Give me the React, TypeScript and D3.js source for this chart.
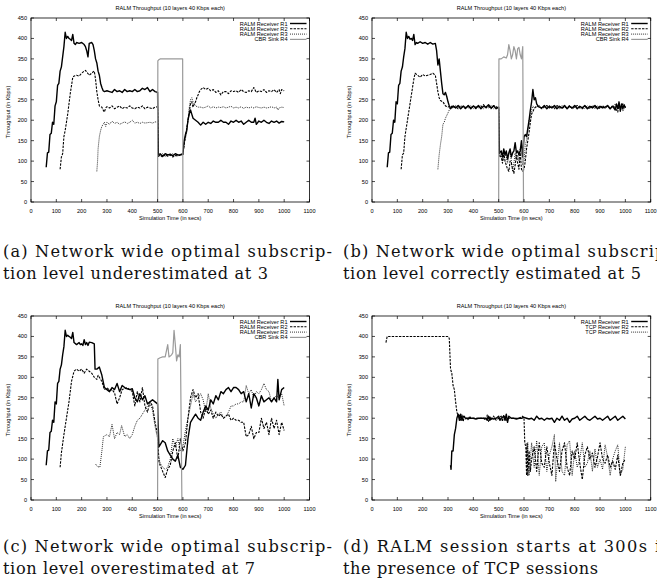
import React from 'react';
import * as d3 from 'd3';

type P = [number, number];

const xTicks = [0, 100, 200, 300, 400, 500, 600, 700, 800, 900, 1000, 1100];
const yTicks = [0, 50, 100, 150, 200, 250, 300, 350, 400, 450];
const chartTitle = 'RALM Throughput (10 layers 40 Kbps each)';
const xAxisLabel = 'Simulation Time (in secs)';
const yAxisLabel = 'Throughput (in Kbps)';
const legendRALM = ['RALM Receiver R1', 'RALM Receiver R2', 'RALM Receiver R3', 'CBR Sink R4'];
const legendTCP = ['RALM Receiver R1', 'TCP Receiver R2', 'TCP Receiver R3'];

const captionA = ['(a) Network wide optimal subscrip-', 'tion level underestimated at 3'];
const captionB = ['(b) Network wide optimal subscrip-', 'tion level correctly estimated at 5'];
const captionC = ['(c) Network wide optimal subscrip-', 'tion level overestimated at 7'];
const captionD = ['(d) RALM session starts at 300s in', 'the presence of TCP sessions'];

// ---------- Panel (a) ----------
const aR1: P[] = [[60,85],[65,120],[70,122],[75,165],[80,168],[85,195],[90,190],[95,235],[100,245],[105,285],[110,290],[115,320],[120,330],[125,355],[130,380],[135,415],[140,400],[145,405],[150,400],[155,398],[160,395],[165,410],[170,388],[175,385],[180,390],[190,388],[200,390],[210,385],[215,380],[220,370],[225,355],[230,388],[240,390],[245,385],[250,370],[255,350],[260,340],[265,320],[270,310],[275,290],[280,280],[285,272],[290,270],[300,272],[310,270],[320,268],[330,275],[340,270],[350,272],[360,268],[370,275],[380,270],[390,272],[400,270],[410,275],[420,270],[430,272],[440,278],[450,275],[460,280],[470,270],[480,275],[490,270],[500,268],[503,115],[510,118],[520,112],[530,118],[540,115],[550,117],[560,113],[570,118],[580,115],[590,116],[600,118],[605,150],[610,165],[615,175],[620,200],[625,215],[630,225],[635,215],[640,205],[650,200],[660,195],[670,188],[680,195],[690,190],[700,195],[710,192],[720,198],[730,195],[740,195],[750,200],[760,195],[770,195],[780,190],[790,198],[800,195],[810,200],[820,195],[830,198],[840,190],[850,195],[860,200],[870,195],[880,195],[885,205],[890,190],[900,198],[910,195],[920,200],[930,195],[940,192],[950,198],[960,195],[970,198],[980,193],[990,197],[1000,196]];
const aR2: P[] = [[115,80],[120,110],[125,118],[130,160],[135,175],[140,195],[145,215],[150,240],[155,265],[160,285],[165,305],[170,308],[180,310],[190,308],[200,315],[210,320],[215,322],[220,318],[230,310],[240,315],[245,318],[250,320],[255,300],[260,270],[265,250],[270,235],[280,232],[285,225],[290,220],[295,230],[300,233],[310,230],[320,235],[330,228],[340,232],[350,235],[360,228],[370,232],[380,230],[390,235],[400,230],[410,228],[420,232],[430,230],[440,235],[450,228],[460,232],[470,230],[480,228],[490,232],[500,233],[503,112],[510,115],[520,110],[530,116],[540,112],[550,115],[560,110],[570,114],[580,112],[590,115],[600,116],[605,140],[610,160],[615,180],[620,200],[625,220],[630,240],[635,245],[640,232],[645,240],[650,245],[655,255],[660,262],[665,270],[670,275],[680,280],[690,275],[700,278],[710,272],[720,275],[730,268],[740,272],[750,262],[760,270],[770,270],[780,265],[790,272],[800,270],[810,272],[820,268],[830,275],[840,270],[850,268],[860,272],[870,270],[880,280],[890,268],[900,272],[910,270],[920,275],[930,268],[940,272],[950,270],[960,275],[970,268],[980,275],[985,265],[990,275],[1000,272]];
const aR3: P[] = [[260,75],[263,100],[265,130],[270,160],[275,175],[280,185],[285,190],[290,195],[295,185],[300,195],[310,190],[320,198],[330,192],[340,195],[350,190],[360,193],[370,196],[380,192],[390,195],[400,200],[410,193],[420,195],[430,192],[440,195],[450,193],[460,194],[470,195],[480,193],[490,196],[500,195],[503,110],[510,115],[520,118],[530,112],[540,116],[550,114],[560,118],[570,113],[580,116],[590,114],[600,115],[605,145],[610,155],[615,170],[620,200],[625,230],[630,250],[635,255],[640,245],[645,240],[650,235],[660,232],[670,232],[680,230],[690,232],[700,235],[710,230],[720,233],[730,230],[740,232],[750,231],[760,233],[770,230],[780,232],[790,234],[800,230],[810,232],[820,230],[830,233],[840,229],[850,232],[860,230],[870,232],[880,230],[890,233],[900,231],[910,230],[920,232],[930,230],[940,231],[950,233],[960,230],[970,232],[975,225],[980,230],[990,232],[1000,231]];
const aR4: P[] = [[500,0],[501,345],[505,348],[510,350],[520,350],[540,350],[560,350],[580,350],[599,350],[600,0]];

// ---------- Panel (b) ----------
const bR1: P[] = [[60,85],[65,120],[70,122],[75,165],[80,168],[85,200],[90,195],[95,245],[100,240],[105,285],[110,290],[115,320],[120,330],[125,355],[130,375],[135,415],[140,400],[145,405],[150,398],[155,400],[160,395],[165,410],[170,385],[175,390],[180,388],[190,392],[200,388],[210,390],[220,386],[230,390],[240,386],[250,388],[255,370],[260,335],[265,350],[270,320],[275,290],[280,265],[285,262],[290,268],[295,258],[300,245],[305,235],[310,228],[320,235],[330,230],[340,236],[350,228],[360,234],[370,230],[380,236],[390,228],[400,235],[410,230],[420,236],[430,228],[440,234],[450,232],[460,238],[470,230],[480,235],[490,228],[500,232],[503,120],[510,125],[515,110],[520,130],[525,115],[530,125],[535,105],[540,120],[545,130],[550,110],[555,120],[560,125],[565,145],[570,120],[575,125],[580,115],[585,125],[590,150],[595,110],[600,160],[605,165],[610,160],[615,180],[620,200],[625,225],[630,245],[635,275],[640,250],[645,255],[650,240],[655,235],[660,232],[670,230],[680,236],[690,228],[700,234],[710,230],[720,236],[730,228],[740,234],[750,230],[760,236],[770,228],[780,234],[790,230],[800,236],[810,228],[820,234],[830,230],[840,236],[850,228],[860,234],[870,230],[880,236],[890,228],[900,234],[910,230],[920,232],[930,236],[940,228],[950,234],[960,225],[965,240],[970,228],[975,245],[980,222],[985,240],[990,228],[995,238],[1000,230]];
const bR2: P[] = [[115,80],[120,115],[125,120],[130,160],[140,200],[150,240],[160,280],[165,300],[170,315],[180,310],[190,305],[200,312],[210,308],[220,310],[230,312],[240,315],[250,310],[255,290],[260,270],[265,255],[270,248],[280,245],[290,235],[300,232],[310,236],[320,230],[330,234],[340,228],[350,236],[360,232],[370,228],[380,236],[390,230],[400,234],[410,228],[420,234],[430,232],[440,238],[450,230],[460,234],[470,228],[480,236],[490,232],[500,230],[503,115],[510,110],[515,95],[520,120],[525,100],[530,90],[535,80],[540,75],[545,100],[550,95],[555,80],[560,70],[565,90],[570,115],[575,95],[580,80],[585,120],[590,80],[595,75],[600,80],[605,100],[610,130],[615,150],[620,170],[625,195],[630,215],[640,228],[650,235],[660,234],[670,228],[680,232],[690,236],[700,230],[710,234],[720,228],[730,236],[740,232],[750,228],[760,234],[770,230],[780,236],[790,228],[800,232],[810,236],[820,230],[830,228],[840,234],[850,232],[860,228],[870,236],[880,230],[890,234],[900,228],[910,236],[920,230],[930,234],[940,228],[950,236],[960,230],[970,220],[975,238],[980,230],[990,240],[1000,232]];
const bR3: P[] = [[260,80],[265,115],[270,140],[275,160],[280,190],[285,195],[290,205],[300,218],[305,225],[310,232],[320,230],[330,236],[340,232],[350,228],[360,236],[370,232],[380,230],[390,236],[400,228],[410,234],[420,230],[430,236],[440,228],[450,234],[460,230],[470,236],[480,228],[490,234],[500,232],[503,110],[510,120],[515,100],[520,105],[525,120],[530,110],[535,95],[540,115],[545,125],[550,100],[555,75],[560,95],[565,120],[570,105],[575,115],[580,100],[585,130],[590,120],[595,90],[600,100],[605,140],[610,150],[615,175],[620,190],[625,210],[630,225],[635,235],[640,230],[650,232],[660,236],[670,230],[680,234],[690,228],[700,236],[710,232],[720,230],[730,234],[740,228],[750,236],[760,232],[770,230],[780,234],[790,228],[800,236],[810,230],[820,234],[830,232],[840,228],[850,236],[860,230],[870,234],[880,228],[890,236],[900,230],[910,234],[920,228],[930,236],[940,230],[950,234],[960,240],[970,228],[980,236],[990,222],[1000,234]];
const bR4: P[] = [[500,0],[501,350],[510,350],[520,355],[530,352],[535,360],[540,385],[545,370],[550,350],[555,360],[560,380],[565,370],[570,350],[575,375],[580,378],[585,360],[590,350],[595,380],[598,0]];

// ---------- Panel (c) ----------
const cR1: P[] = [[60,85],[65,120],[70,122],[75,165],[80,168],[85,195],[90,190],[95,240],[100,235],[105,285],[110,290],[115,320],[120,330],[125,355],[130,375],[135,415],[140,400],[145,403],[150,400],[155,398],[160,395],[165,410],[170,385],[180,380],[190,385],[195,380],[200,382],[205,378],[210,392],[215,380],[220,385],[225,378],[230,386],[240,385],[250,382],[253,320],[260,320],[270,325],[280,305],[290,275],[300,270],[310,265],[320,275],[330,270],[340,285],[350,265],[360,280],[370,275],[380,272],[390,270],[400,272],[410,250],[420,240],[430,260],[440,245],[450,255],[460,235],[470,240],[480,245],[490,240],[500,235],[505,130],[510,135],[520,145],[530,140],[540,120],[550,110],[560,100],[570,95],[580,110],[590,80],[600,75],[610,85],[620,150],[630,190],[640,200],[650,210],[660,200],[670,195],[680,215],[690,230],[700,220],[710,245],[720,235],[730,255],[740,245],[750,265],[760,260],[770,270],[780,275],[790,265],[800,275],[810,275],[820,270],[830,260],[840,265],[850,240],[860,260],[870,225],[880,260],[890,250],[900,230],[910,255],[920,240],[930,245],[940,250],[950,240],[960,250],[970,240],[975,295],[980,245],[990,270],[1000,275]];
const cR2: P[] = [[115,80],[120,115],[130,160],[140,200],[150,240],[160,290],[170,315],[180,320],[190,315],[200,320],[210,310],[220,320],[230,315],[240,310],[250,300],[260,295],[265,305],[270,300],[280,290],[290,270],[300,275],[310,268],[320,270],[330,262],[340,235],[350,250],[360,270],[370,272],[380,275],[390,270],[400,265],[410,230],[420,265],[430,240],[440,275],[450,230],[460,215],[470,240],[480,230],[490,190],[500,160],[505,95],[510,85],[520,70],[530,55],[540,75],[550,85],[560,120],[570,140],[580,100],[590,150],[600,120],[610,140],[620,200],[630,250],[640,270],[650,250],[660,260],[670,215],[680,200],[690,225],[700,210],[710,220],[720,200],[730,215],[740,205],[750,210],[760,200],[770,205],[780,210],[790,195],[800,200],[810,195],[820,195],[830,190],[840,190],[850,155],[860,160],[870,180],[880,150],[890,165],[900,165],[910,200],[920,175],[930,190],[940,160],[950,200],[960,175],[970,195],[980,160],[990,190],[1000,170]];
const cR3: P[] = [[255,88],[262,82],[272,80],[280,120],[286,155],[300,160],[310,155],[320,185],[330,150],[340,165],[350,160],[358,182],[370,155],[380,160],[390,150],[400,160],[410,180],[420,195],[430,200],[440,210],[450,220],[460,230],[470,235],[480,220],[490,180],[500,150],[505,105],[510,90],[520,80],[530,75],[540,80],[550,100],[560,150],[570,130],[580,150],[590,120],[600,130],[610,170],[620,200],[630,230],[640,260],[650,240],[660,250],[670,260],[680,245],[690,215],[700,260],[710,225],[720,210],[730,200],[740,210],[750,215],[760,200],[770,205],[780,215],[790,230],[800,230],[810,235],[820,235],[830,240],[840,240],[850,280],[860,260],[870,270],[880,250],[890,265],[900,260],[910,270],[920,285],[930,270],[940,265],[950,240],[960,250],[970,255],[980,250],[990,260],[1000,230]];
const cR4: P[] = [[500,0],[501,345],[510,348],[520,350],[530,350],[540,380],[545,350],[550,352],[555,355],[560,360],[565,415],[570,380],[575,340],[580,355],[585,350],[590,380],[596,0]];

// ---------- Panel (d) ----------
const dR1: P[] = [[310,85],[312,75],[315,120],[320,120],[325,160],[330,175],[335,200],[340,210],[345,195],[350,210],[355,195],[360,205],[370,200],[380,200],[390,200],[400,200],[410,198],[420,200],[430,200],[440,200],[450,200],[455,195],[460,205],[465,195],[470,200],[480,198],[490,200],[500,205],[505,195],[510,200],[520,205],[525,195],[530,210],[535,190],[540,205],[550,200],[560,200],[570,198],[580,200],[590,200],[600,202],[610,200],[620,198],[630,200],[640,195],[650,205],[660,198],[670,200],[680,195],[690,200],[700,198],[710,200],[720,190],[730,200],[740,195],[750,205],[760,195],[770,200],[780,190],[790,198],[800,200],[810,205],[820,195],[830,200],[840,205],[850,198],[860,195],[870,200],[880,205],[890,198],[900,200],[910,195],[920,200],[930,205],[940,195],[950,200],[960,205],[970,195],[980,200],[990,205],[1000,198]];
const dR2: P[] = [[55,385],[60,400],[150,400],[300,400],[305,395],[310,320],[315,310],[320,280],[325,270],[330,240],[335,215],[340,205],[345,210],[350,195],[355,208],[360,192],[365,205],[370,198],[375,202],[380,195],[385,205],[390,200],[400,200],[420,200],[440,200],[450,195],[455,208],[460,192],[465,205],[470,196],[480,205],[490,195],[500,200],[510,205],[515,192],[520,208],[530,195],[540,200],[560,200],[580,200],[595,205],[600,200],[603,140],[607,130],[610,60],[612,140],[615,60],[620,120],[625,70],[630,100],[640,130],[650,70],[660,140],[670,90],[680,80],[690,130],[700,90],[710,60],[720,140],[730,100],[740,70],[750,120],[760,140],[770,80],[780,60],[790,120],[800,100],[810,140],[820,90],[830,50],[840,110],[850,130],[860,100],[870,115],[880,80],[890,105],[900,140],[910,100],[920,90],[930,110],[940,80],[950,95],[960,75],[970,110],[980,60],[990,90],[1000,100]];
const dR3: P[] = [[610,100],[615,140],[620,60],[630,140],[640,80],[650,145],[660,60],[670,130],[680,140],[690,70],[700,110],[710,130],[720,160],[725,45],[730,80],[740,140],[750,70],[760,60],[770,135],[780,145],[790,60],[800,120],[810,80],[820,100],[830,140],[840,80],[850,90],[860,120],[870,70],[880,125],[890,80],[900,100],[910,75],[920,135],[930,105],[940,60],[950,100],[960,120],[970,135],[980,60],[990,75],[1000,130]];

const styles = [
  { stroke: '#000', width: 1.4, dash: '' },
  { stroke: '#000', width: 1.1, dash: '2.4,1.2' },
  { stroke: '#000', width: 0.9, dash: '0.9,1.1' },
  { stroke: '#9a9a9a', width: 1.2, dash: '' },
];

const sans = 'Liberation Sans, Arial, Helvetica, sans-serif';
const serif = 'DejaVu Serif, serif';

type PanelProps = {
  left: number; right: number; top: number; bottom: number;
  series: P[][]; legend: string[]; ylabelX: number;
};

function Panel({ left, right, top, bottom, series, legend, ylabelX }: PanelProps) {
  const x = d3.scaleLinear().domain([0, 1100]).range([left, right]);
  const y = d3.scaleLinear().domain([0, 450]).range([bottom, top]);
  const line = d3.line<P>().x((d) => x(d[0])).y((d) => y(d[1]));
  const tl = 3;
  const fs = 5.6;
  return (
    <g>
      <text x={(left + right) / 2} y={top - 8.5} fontSize={fs} textAnchor="middle" fontFamily={sans}>{chartTitle}</text>
      {series.map((s, i) => (
        <path key={i} d={line(s) || ''} fill="none" stroke={styles[i].stroke} strokeWidth={styles[i].width}
          strokeDasharray={styles[i].dash || undefined} strokeLinejoin="round" />
      ))}
      <rect x={left} y={top} width={right - left} height={bottom - top} fill="none" stroke="#000" strokeWidth={0.8} />
      {xTicks.map((t) => (
        <g key={'x' + t}>
          <line x1={x(t)} x2={x(t)} y1={bottom} y2={bottom - tl} stroke="#000" strokeWidth={0.7} />
          <line x1={x(t)} x2={x(t)} y1={top} y2={top + tl} stroke="#000" strokeWidth={0.7} />
          <text x={x(t)} y={bottom + 10.8} fontSize={fs} textAnchor="middle" fontFamily={sans}>{t}</text>
        </g>
      ))}
      {yTicks.map((t) => (
        <g key={'y' + t}>
          <line x1={left} x2={left + tl} y1={y(t)} y2={y(t)} stroke="#000" strokeWidth={0.7} />
          <line x1={right} x2={right - tl} y1={y(t)} y2={y(t)} stroke="#000" strokeWidth={0.7} />
          <text x={left - 4} y={y(t) + 2} fontSize={fs} textAnchor="end" fontFamily={sans}>{t}</text>
        </g>
      ))}
      <text x={(left + right) / 2} y={bottom + 17.5} fontSize={fs} textAnchor="middle" fontFamily={sans}>{xAxisLabel}</text>
      <text transform={`translate(${ylabelX},${(top + bottom) / 2 + 2}) rotate(-90)`} fontSize={fs} textAnchor="middle" fontFamily={sans}>{yAxisLabel}</text>
      {legend.map((lab, i) => {
        const ly = top + 5.5 + i * 5.3;
        return (
          <g key={'l' + i}>
            <text x={right - 22} y={ly + 2} fontSize={fs} textAnchor="end" fontFamily={sans}>{lab}</text>
            <line x1={right - 19.5} x2={right - 3} y1={ly} y2={ly} stroke={styles[i].stroke}
              strokeWidth={styles[i].width} strokeDasharray={styles[i].dash || undefined} />
          </g>
        );
      })}
    </g>
  );
}

function Caption({ x, y, lines, widths }: { x: number; y: number; lines: string[]; widths: number[] }) {
  return (
    <g fontFamily={serif} fontSize={16.2} fill="#111">
      <text x={x} y={y} textLength={widths[0]} lengthAdjust="spacing">{lines[0]}</text>
      <text x={x} y={y + 21.5} textLength={widths[1]} lengthAdjust="spacing">{lines[1]}</text>
    </g>
  );
}

export default function App() {
  return (
    <svg width={657} height={583} style={{ position: 'absolute', left: 0, top: 0, background: '#fff' }}>
      <rect width={657} height={583} fill="#fff" />
      <Panel left={31} right={309.5} top={18} bottom={202} ylabelX={10} series={[aR1, aR2, aR3, aR4]} legend={legendRALM} />
      <Panel left={372} right={650.7} top={18} bottom={202} ylabelX={351} series={[bR1, bR2, bR3, bR4]} legend={legendRALM} />
      <Panel left={31} right={309.5} top={316} bottom={500} ylabelX={10} series={[cR1, cR2, cR3, cR4]} legend={legendRALM} />
      <Panel left={372} right={650.7} top={316} bottom={500} ylabelX={351} series={[dR1, dR2, dR3]} legend={legendTCP} />
      <Caption x={3} y={257} lines={captionA} widths={[329, 265]} />
      <Caption x={343} y={257} lines={captionB} widths={[329, 298]} />
      <Caption x={3} y={552} lines={captionC} widths={[329, 252]} />
      <Caption x={343} y={552} lines={captionD} widths={[329, 255]} />
    </svg>
  );
}
